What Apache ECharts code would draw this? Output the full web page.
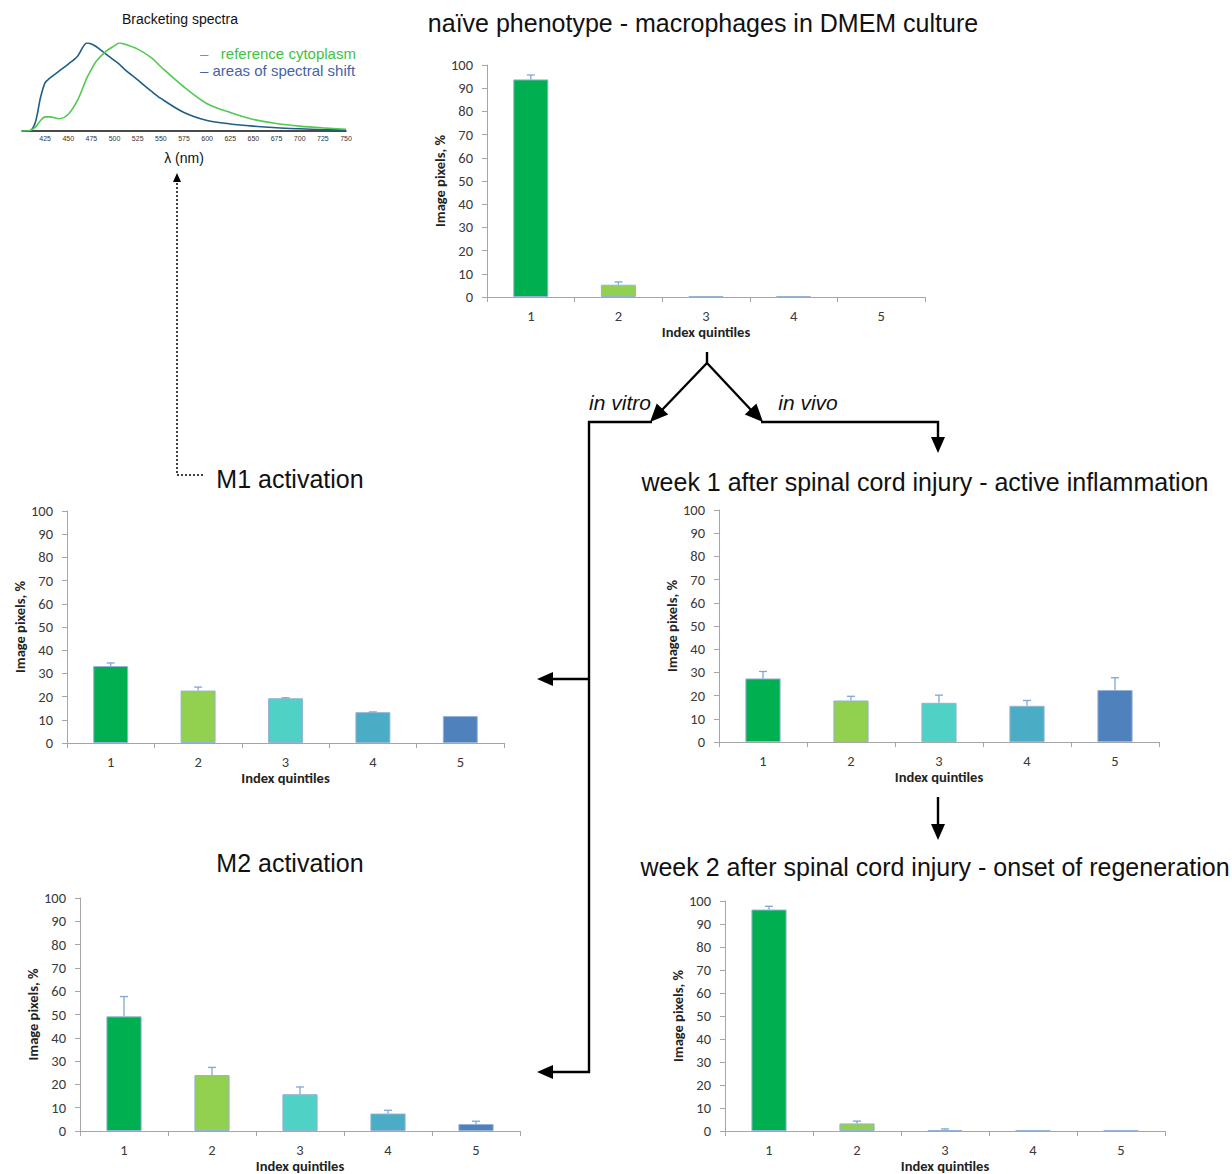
<!DOCTYPE html>
<html><head><meta charset="utf-8">
<script src="https://cdn.jsdelivr.net/npm/echarts@6/dist/echarts.min.js"></script>
<style>html,body{margin:0;padding:0;background:#fff}#c{width:1232px;height:1174px}</style>
</head><body><div id="c"></div>
<script>
// ---------- data ----------
const categories = ['1','2','3','4','5'];
const naiveVals = [93.8, 5.3, 0.3, 0.3, 0];
const naiveErr  = [1.9, 1.2, 0, 0, 0];
const m1Vals = [33.2, 22.6, 19.3, 13.3, 11.6];
const m1Err  = [1.3, 1.5, 0.2, 0.1, 0];
const wk1Vals = [27.4, 17.9, 16.9, 15.6, 22.4];
const wk1Err  = [3.0, 1.8, 3.3, 2.3, 5.3];
const m2Vals = [49.2, 24.0, 15.8, 7.5, 3.0];
const m2Err  = [8.5, 3.3, 3.1, 1.4, 1.2];
const wk2Vals = [96.3, 3.3, 0.4, 0.3, 0.3];
const wk2Err  = [1.4, 1.0, 0.5, 0, 0];
const yTicks = [0,10,20,30,40,50,60,70,80,90,100];

const wavelengths = [400,405,410,415,420,425,430,440,450,460,470,475,480,490,500,505,510,525,540,550,575,600,625,650,675,700,725,750];
const shiftSpectrum = [0,0,0.01,0.12,0.38,0.55,0.60,0.68,0.76,0.85,1.0,0.99,0.96,0.88,0.80,0.76,0.71,0.58,0.45,0.37,0.21,0.12,0.08,0.055,0.037,0.025,0.015,0.01];
const refSpectrum   = [0,0,0.01,0.05,0.12,0.16,0.16,0.14,0.19,0.35,0.60,0.70,0.79,0.90,0.97,1.0,0.99,0.93,0.83,0.73,0.50,0.31,0.21,0.13,0.085,0.055,0.035,0.02];

// ---------- styles ----------
const barColors = ['#00b050','#92d050','#4fd1c5','#4bacc6','#4f81bd'];
const ERR = '#7fa7d9';
const AX = '#a6a6a6';
const LBL = '#3a3a3a';
const FONT = 'Carlito, Lato, sans-serif';
const TFONT = '"Liberation Sans", Arial, sans-serif';

const panels = [
  {vals: naiveVals, err: naiveErr, grid:{left:487, top:65, width:438, height:232}},
  {vals: m1Vals, err: m1Err, grid:{left:67, top:511, width:437, height:232}},
  {vals: wk1Vals, err: wk1Err, grid:{left:719, top:510, width:440, height:232}},
  {vals: m2Vals, err: m2Err, grid:{left:80, top:898, width:440, height:233}},
  {vals: wk2Vals, err: wk2Err, grid:{left:725, top:901, width:440, height:232}}
];

const grids = [], xAxes = [], yAxes = [], series = [];
panels.forEach((p, i) => {
  grids.push(p.grid);
  xAxes.push({
    type:'category', gridIndex:i, data:categories, boundaryGap:true,
    axisLine:{lineStyle:{color:AX, width:1}},
    axisTick:{show:true, length:5, lineStyle:{color:AX}},
    axisLabel:{color:LBL, fontSize:14.5, fontFamily:FONT, margin:11},
    name:'Index quintiles', nameLocation:'middle', nameGap:27,
    nameTextStyle:{color:'#222', fontSize:14.5, fontWeight:'bold', fontFamily:FONT}
  });
  yAxes.push({
    type:'value', gridIndex:i, min:yTicks[0], max:yTicks[yTicks.length-1], interval:10,
    axisLine:{show:true, lineStyle:{color:AX, width:1}},
    axisTick:{show:true, length:5, lineStyle:{color:AX}},
    splitLine:{show:false},
    axisLabel:{color:LBL, fontSize:14.5, fontFamily:FONT, margin:14},
    name:'Image pixels, %', nameLocation:'middle', nameGap:40,
    nameTextStyle:{color:'#222', fontSize:14.5, fontWeight:'bold', fontFamily:FONT}
  });
  series.push({
    type:'bar', xAxisIndex:i, yAxisIndex:i, barWidth:'40%',
    data:p.vals.map(v => v > 0 ? v : {value:v, itemStyle:{borderWidth:0}}),
    itemStyle:{color:(q)=>barColors[q.dataIndex], borderColor:'#95b3d7', borderWidth:1},
    animation:false
  });
  series.push({
    type:'custom', xAxisIndex:i, yAxisIndex:i, z:5, animation:false,
    data:p.vals.map((v,j)=>[j, v, p.err[j]]),
    renderItem:(params, api)=>{
      const e = api.value(2);
      if (!e) return null;
      const x = api.value(0), v = api.value(1);
      const p0 = api.coord([x, v]), p1 = api.coord([x, v+e]);
      return {type:'group', children:[
        {type:'line', shape:{x1:p0[0], y1:p0[1], x2:p1[0], y2:p1[1]}, style:{stroke:ERR, lineWidth:1.3}},
        {type:'line', shape:{x1:p1[0]-4, y1:p1[1], x2:p1[0]+4, y2:p1[1]}, style:{stroke:ERR, lineWidth:1.3}}
      ]};
    }
  });
});

// spectra inset
const SI = panels.length;
grids.push({left:22, top:43, width:324, height:88});
xAxes.push({
  type:'value', gridIndex:SI, min:400, max:750, interval:25,
  axisLine:{lineStyle:{color:'#111', width:1.5}},
  axisTick:{show:false}, splitLine:{show:false},
  axisLabel:{showMinLabel:false, color:'#333', fontSize:7, fontFamily:TFONT, margin:4},
  name:'λ (nm)', nameLocation:'middle', nameGap:20,
  nameTextStyle:{color:'#111', fontSize:14, fontFamily:TFONT}
});
yAxes.push({type:'value', gridIndex:SI, min:0, max:1, show:false, splitLine:{show:false}});
series.push({
  type:'line', name:'– areas of spectral shift', xAxisIndex:SI, yAxisIndex:SI, smooth:0.3, showSymbol:false,
  data:wavelengths.map((w,k)=>[w, shiftSpectrum[k]]),
  lineStyle:{color:'#1f5f85', width:1.6}, itemStyle:{color:'#1f5f85'}, animation:false
});
series.push({
  type:'line', name:'–   reference cytoplasm', xAxisIndex:SI, yAxisIndex:SI, smooth:0.3, showSymbol:false,
  data:wavelengths.map((w,k)=>[w, refSpectrum[k]]),
  lineStyle:{color:'#52c952', width:1.6}, itemStyle:{color:'#52c952'}, animation:false
});

// ---------- decorations ----------
function head(tx, ty, fx, fy, len, hw) {
  const dx = tx-fx, dy = ty-fy, L = Math.hypot(dx,dy), ux = dx/L, uy = dy/L;
  const bx = tx-ux*len, by = ty-uy*len;
  return {type:'polygon', shape:{points:[[tx,ty],[bx-uy*hw, by+ux*hw],[bx+uy*hw, by-ux*hw]]}, style:{fill:'#000'}};
}
const LS = {stroke:'#000', lineWidth:2.4, fill:null};
const TT = (x, y, text) => ({type:'text', style:{x:x, y:y, text:text, fontSize:25, fontFamily:TFONT, fill:'#111', textAlign:'center', textVerticalAlign:'middle'}});
const graphics = [
  {type:'polyline', shape:{points:[[707,352],[707,363]]}, style:LS},
  {type:'polyline', shape:{points:[[707,363],[661,411]]}, style:LS},
  head(650,422,707,363,18,8),
  {type:'polyline', shape:{points:[[707,363],[752,411]]}, style:LS},
  head(763,422,707,363,18,8),
  {type:'polyline', shape:{points:[[652,422],[589,422],[589,1072],[552,1072]]}, style:LS},
  {type:'polyline', shape:{points:[[589,679],[552,679]]}, style:LS},
  head(537,679,589,679,16,7),
  head(537,1072,589,1072,16,7),
  {type:'polyline', shape:{points:[[761,422],[938,422],[938,440]]}, style:LS},
  head(938,453,938,422,16,7),
  {type:'polyline', shape:{points:[[938,797],[938,826]]}, style:LS},
  head(938,840,938,797,16,7),
  {type:'polyline', shape:{points:[[203,475],[177,475],[177,183]]}, style:{stroke:'#000', lineWidth:1.5, lineDash:[2,2], fill:null}},
  head(177,173,177,475,9,4),
  {type:'text', style:{x:620, y:402, text:'in vitro', fontStyle:'italic', fontSize:21, fontFamily:TFONT, fill:'#111', textAlign:'center', textVerticalAlign:'middle'}},
  {type:'text', style:{x:808, y:402, text:'in vivo', fontStyle:'italic', fontSize:21, fontFamily:TFONT, fill:'#111', textAlign:'center', textVerticalAlign:'middle'}},
  TT(703, 23, 'naïve phenotype - macrophages in DMEM culture'),
  TT(290, 479, 'M1 activation'),
  TT(925, 482, 'week 1 after spinal cord injury - active inflammation'),
  TT(290, 863, 'M2 activation'),
  TT(935, 867, 'week 2 after spinal cord injury - onset of regeneration'),
  {type:'text', style:{x:180, y:19, text:'Bracketing spectra', fontSize:14, fontFamily:TFONT, fill:'#111', textAlign:'center', textVerticalAlign:'middle'}}
];

const chart = echarts.init(document.getElementById('c'), null, {renderer:'svg'});
chart.setOption({
  backgroundColor:'#fff',
  animation:false,
  grid:grids, xAxis:xAxes, yAxis:yAxes, series:series,
  legend:{
    orient:'vertical', left:190, top:41, itemGap:2, itemWidth:0, itemHeight:0, icon:'none',
    data:[
      {name:'–   reference cytoplasm', textStyle:{color:'#3fc23f'}},
      {name:'– areas of spectral shift', textStyle:{color:'#4663a6'}}
    ],
    textStyle:{fontSize:15, fontFamily:TFONT}, selectedMode:false
  },
  graphic:graphics
});
</script></body></html>
